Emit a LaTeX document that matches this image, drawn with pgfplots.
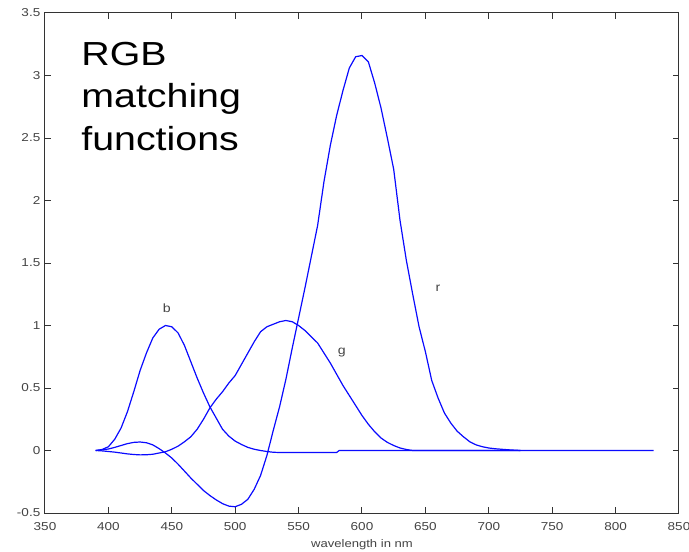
\documentclass[border=0pt]{standalone}
\usepackage{pgfplots}
\pgfplotsset{compat=1.18}
\usepackage{fontspec}
\setmainfont[FakeStretch=1.18]{Liberation Sans}
\definecolor{axgray}{HTML}{333333}
\definecolor{tkgray}{HTML}{444444}
\definecolor{curve}{RGB}{10,10,255}
\begin{document}
\begin{tikzpicture}
\useasboundingbox (-33.75pt,-28.5pt) rectangle (483pt,384.75pt);
\begin{axis}[
  at={(0pt,0pt)}, anchor=south west,
  scale only axis, width=475.5pt, height=375pt,
  xmin=350, xmax=850, ymin=-0.5, ymax=3.5,
  xtick={350,400,...,850},
  ytick={-0.5,0,0.5,1,1.5,2,2.5,3,3.5},
  yticklabels={-0.5,0,0.5,1,1.5,2,2.5,3,3.5},
  /pgf/number format/assume math mode=true,
  /pgf/number format/1000 sep={},
  tick label style={font=\fontsize{8.6}{10}\selectfont, text=tkgray},
  xticklabel style={yshift=-3.5pt},
  axis line style={draw=axgray, line width=0.75pt},
  tick style={draw=axgray, line width=0.75pt},
  major tick length=4.5pt,
  tick align=inside,
  xlabel={wavelength in nm},
  xlabel style={font=\fontsize{8.3}{9}\selectfont, text=tkgray, yshift=0.5pt},
  clip=false,
]
% r
\addplot[curve, line width=0.9pt] coordinates {
(390,0) (395,0.005) (400,0.012) (405,0.025) (410,0.040) (415,0.055) (420,0.065) (425,0.068) (430,0.062) (435,0.045) (440,0.015) (445,-0.02) (450,-0.06) (455,-0.11) (460,-0.165) (465,-0.22) (470,-0.27) (475,-0.32) (480,-0.36) (485,-0.395) (490,-0.425) (495,-0.445) (500,-0.45) (505,-0.43) (510,-0.39) (515,-0.31) (520,-0.20) (525,-0.04) (530,0.16) (535,0.35) (540,0.57) (545,0.82) (550,1.06) (555,1.30) (560,1.55) (565,1.80) (570,2.15) (575,2.44) (580,2.68) (585,2.88) (590,3.06) (595,3.15) (600,3.16) (605,3.11) (610,2.94) (615,2.74) (620,2.50) (625,2.25) (630,1.84) (635,1.52) (640,1.25) (645,0.99) (650,0.79) (655,0.56) (660,0.42) (665,0.30) (670,0.22) (675,0.155) (680,0.11) (685,0.07) (690,0.045) (695,0.03) (700,0.02) (705,0.014) (710,0.01) (715,0.006) (720,0.003) (725,0)
};
% g
\addplot[curve, line width=0.9pt] coordinates {
(390,0) (395,-0.003) (400,-0.008) (405,-0.013) (410,-0.02) (415,-0.027) (420,-0.032) (425,-0.035) (430,-0.034) (435,-0.03) (440,-0.02) (445,-0.01) (450,0.01) (455,0.035) (460,0.07) (465,0.11) (470,0.17) (475,0.25) (480,0.34) (485,0.41) (490,0.47) (495,0.54) (500,0.60) (505,0.69) (510,0.78) (515,0.87) (520,0.95) (525,0.99) (530,1.01) (535,1.03) (540,1.04) (545,1.03) (550,1.00) (555,0.96) (560,0.91) (565,0.86) (570,0.78) (575,0.70) (580,0.61) (585,0.52) (590,0.44) (595,0.36) (600,0.28) (605,0.21) (610,0.15) (615,0.10) (620,0.065) (625,0.04) (630,0.02) (635,0.008) (640,0) (725,0)
};
% b
\addplot[curve, line width=0.9pt] coordinates {
(390,0) (395,0.008) (400,0.03) (405,0.09) (410,0.18) (415,0.31) (420,0.47) (425,0.64) (430,0.78) (435,0.90) (440,0.97) (445,1.0) (450,0.99) (455,0.94) (460,0.84) (465,0.71) (470,0.58) (475,0.46) (480,0.35) (485,0.26) (490,0.17) (495,0.115) (500,0.075) (505,0.048) (510,0.025) (515,0.01) (520,0.0) (525,-0.008) (530,-0.014) (535,-0.016) (580,-0.016) (582,0) (830,0)
};
\node[font=\fontsize{9}{10}\selectfont, text=tkgray] at (axis cs:446,1.14) {b};
\node[font=\fontsize{9}{10}\selectfont, text=tkgray] at (axis cs:584,0.78) {g};
\node[font=\fontsize{9}{10}\selectfont, text=tkgray] at (axis cs:660,1.30) {r};
\node[anchor=base west, align=left, inner sep=0pt, font=\fontsize{25}{32}\selectfont] at (axis cs:378.5,2.40) {RGB\\matching\\functions};
\end{axis}
\end{tikzpicture}
\end{document}
